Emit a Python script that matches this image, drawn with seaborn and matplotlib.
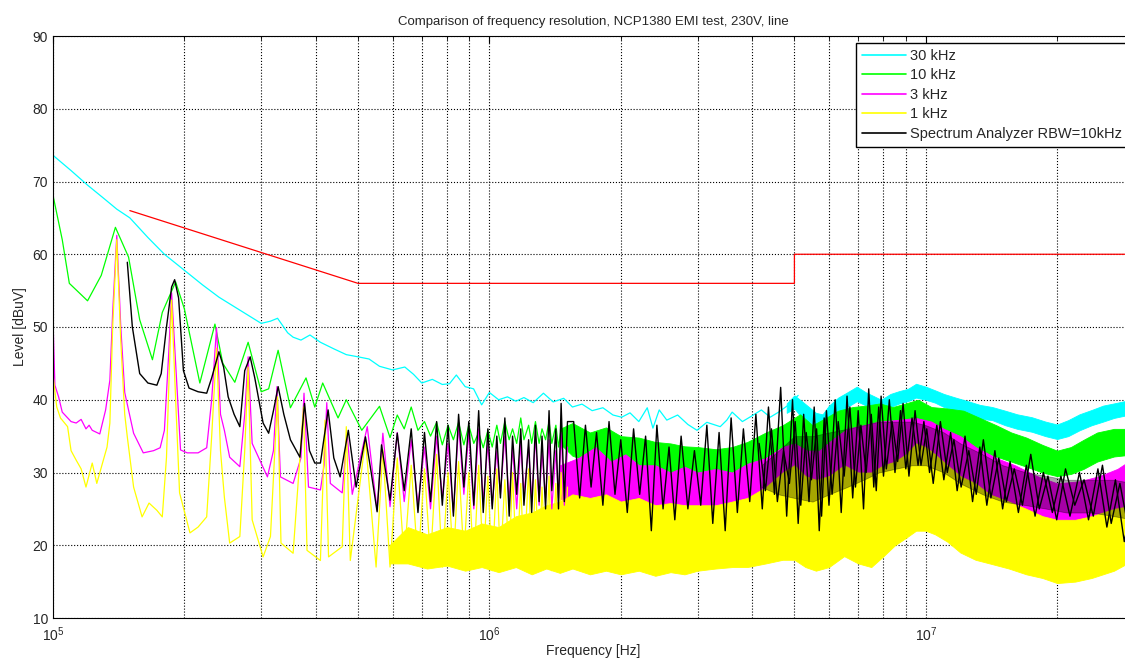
import numpy as np
import pandas as pd
import matplotlib
matplotlib.use('Agg')
import matplotlib.pyplot as plt
import seaborn as sns
from matplotlib.lines import Line2D
from matplotlib.ticker import LogLocator, NullFormatter

# ---- data (frequency in Hz, level in dBuV) ----

# 30 kHz resolution
cyan_f = [1.00e5, 1.10e5, 1.20e5, 1.30e5, 1.40e5, 1.50e5, 1.65e5, 1.80e5, 2.00e5, 2.20e5,
          2.40e5, 2.70e5, 3.00e5, 3.15e5, 3.27e5, 3.45e5, 3.55e5, 3.70e5, 3.88e5, 4.10e5,
          4.40e5, 4.70e5, 5.00e5, 5.30e5, 5.60e5, 6.00e5, 6.40e5, 6.70e5, 7.00e5, 7.40e5,
          7.80e5, 8.10e5, 8.40e5, 8.80e5, 9.20e5, 9.60e5, 1.00e6, 1.05e6, 1.10e6, 1.15e6,
          1.20e6, 1.26e6, 1.33e6, 1.40e6, 1.48e6, 1.55e6, 1.63e6, 1.72e6, 1.82e6, 1.92e6,
          2.01e6, 2.10e6, 2.20e6, 2.30e6, 2.37e6, 2.45e6, 2.55e6, 2.70e6, 2.85e6, 2.99e6,
          3.15e6, 3.38e6, 3.50e6, 3.60e6, 3.80e6, 4.00e6, 4.20e6, 4.40e6, 4.60e6, 4.85e6,
          5.10e6]
cyan_db = [73.6, 71.5, 69.5, 67.8, 66.2, 65.0, 62.3, 60.0, 57.8, 55.8,
           54.1, 52.2, 50.5, 50.8, 51.2, 49.2, 48.6, 48.2, 48.9, 47.9,
           47.0, 46.2, 45.9, 45.6, 44.6, 44.1, 44.5, 43.5, 42.3, 42.8,
           42.1, 42.2, 43.4, 41.8, 41.5, 39.3, 41.0, 40.0, 40.4, 39.8,
           40.3, 39.6, 40.9, 39.7, 40.2, 39.0, 39.4, 38.5, 38.9, 37.9,
           37.6, 38.2, 37.0, 38.9, 36.1, 38.6, 37.2, 37.9, 36.6, 35.8,
           36.9, 36.3, 37.2, 38.3, 37.0, 37.8, 38.6, 37.6, 38.3, 39.3,
           40.6]
cyan_band_f = [4.8e6, 5.0e6, 5.2e6, 5.4e6, 5.6e6, 5.8e6, 6.0e6, 6.3e6, 6.6e6, 6.95e6,
               7.3e6, 7.6e6, 7.9e6, 8.3e6, 8.7e6, 9.1e6, 9.5e6, 1.0e7, 1.05e7, 1.1e7,
               1.17e7, 1.25e7, 1.33e7, 1.42e7, 1.52e7, 1.62e7, 1.75e7, 1.88e7, 2.0e7, 2.12e7,
               2.25e7, 2.4e7, 2.55e7, 2.7e7, 2.85e7, 3.0e7]
cyan_band_lo = [38.2, 38.8, 37.5, 37.0, 36.2, 36.0, 37.0, 38.2, 39.0, 39.8,
                39.2, 38.6, 38.3, 39.0, 39.5, 39.8, 40.3, 40.0, 39.6, 39.0,
                38.5, 38.0, 37.4, 37.2, 36.5, 36.0, 35.6, 35.0, 34.6, 35.0,
                35.8, 36.5, 37.0, 37.5, 37.8, 38.0]
cyan_band_hi = [39.5, 40.6, 39.8, 39.0, 38.2, 38.0, 39.2, 40.3, 41.0, 41.8,
                41.0, 40.5, 40.0, 40.8, 41.2, 41.5, 42.2, 41.8, 41.3, 40.8,
                40.3, 39.8, 39.3, 39.0, 38.5, 38.0, 37.6, 37.0, 36.6, 37.2,
                38.0, 38.6, 39.2, 39.5, 39.8, 40.2]

# 10 kHz resolution
green_f = [1.00e5, 1.05e5, 1.09e5, 1.20e5, 1.29e5, 1.39e5, 1.49e5, 1.58e5, 1.69e5, 1.78e5,
           1.91e5, 2.00e5, 2.17e5, 2.35e5, 2.45e5, 2.61e5, 2.80e5, 3.00e5, 3.12e5, 3.28e5,
           3.50e5, 3.80e5, 3.98e5, 4.15e5, 4.50e5, 4.70e5, 5.10e5, 5.60e5]
green_db = [68.1, 62.0, 56.0, 53.6, 57.1, 63.7, 59.6, 51.0, 45.5, 52.0,
            56.2, 52.5, 42.3, 50.4, 45.0, 42.4, 47.9, 41.1, 41.5, 46.8,
            38.9, 43.0, 39.0, 42.3, 37.5, 40.0, 35.8, 39.1]

# harmonic comb 0.6 - 1.5 MHz (trough, peak, trough, ...)
zz_f = [5.92e5, 6.15e5, 6.38e5, 6.62e5, 6.86e5, 7.10e5, 7.33e5, 7.57e5, 7.80e5, 8.04e5,
        8.27e5, 8.50e5, 8.74e5, 8.97e5, 9.21e5, 9.45e5, 9.68e5, 9.92e5, 1.015e6, 1.04e6,
        1.06e6, 1.085e6, 1.11e6, 1.13e6, 1.155e6, 1.18e6, 1.20e6, 1.23e6, 1.25e6, 1.275e6,
        1.30e6, 1.32e6, 1.345e6, 1.37e6, 1.39e6, 1.42e6, 1.44e6, 1.46e6, 1.485e6, 1.51e6]
green_zz = [34.8, 37.9, 36.0, 39.0, 35.8, 37.0, 35.0, 36.9, 33.8, 36.5,
            34.5, 36.9, 33.8, 36.5, 34.0, 35.5, 33.4, 35.8, 33.5, 36.5,
            34.0, 37.0, 34.5, 36.0, 34.0, 37.5, 34.5, 36.5, 34.0, 37.0,
            34.0, 36.0, 34.5, 37.0, 34.0, 36.5, 33.5, 36.0, 34.0, 36.5]
magenta_zz = [25.3, 35.5, 26.0, 34.5, 25.5, 33.5, 25.0, 35.0, 26.5, 34.0,
              24.5, 36.5, 27.0, 35.5, 25.0, 36.0, 26.0, 34.0, 25.5, 33.0,
              27.0, 35.0, 26.0, 33.5, 25.0, 34.0, 27.0, 33.5, 26.0, 35.0,
              25.5, 33.0, 26.5, 34.5, 25.0, 33.0, 26.5, 35.5, 25.5, 33.5]
yellow_zz = [17.0, 32.0, 18.0, 31.0, 17.5, 30.5, 18.0, 32.5, 17.0, 30.0,
             17.5, 31.5, 18.5, 30.0, 17.0, 31.0, 17.5, 29.5, 16.5, 30.5,
             17.5, 29.0, 18.0, 30.0, 17.0, 28.5, 17.5, 30.5, 16.5, 29.0,
             17.0, 28.0, 17.5, 29.5, 16.5, 28.5, 17.5, 30.0, 17.0, 28.0]
black_zz = [26.2, 35.4, 27.5, 36.0, 24.5, 35.5, 26.0, 37.0, 25.5, 36.5,
            24.0, 38.0, 28.0, 37.0, 25.5, 38.5, 24.5, 36.0, 25.0, 35.0,
            26.5, 37.5, 24.0, 35.0, 27.0, 36.0, 25.5, 34.5, 24.5, 36.5,
            26.0, 35.0, 25.0, 38.5, 27.5, 36.0, 25.0, 39.5, 26.0, 37.0]

green_band_f = [1.45e6, 1.55e6, 1.7e6, 1.85e6, 2.0e6, 2.2e6, 2.4e6, 2.6e6, 2.8e6, 3.0e6,
                3.3e6, 3.6e6, 3.9e6, 4.3e6, 4.7e6, 5.15e6, 5.5e6, 5.9e6, 6.3e6, 6.8e6,
                7.3e6, 7.85e6, 8.4e6, 9.0e6, 9.6e6, 1.03e7, 1.12e7, 1.22e7, 1.33e7, 1.45e7,
                1.57e7, 1.7e7, 1.85e7, 2.0e7, 2.15e7, 2.3e7, 2.47e7, 2.7e7, 3.0e7]
green_band_lo = [34.0, 32.3, 31.5, 31.8, 31.0, 30.8, 30.2, 30.0, 29.6, 29.5,
                 29.8, 30.0, 30.6, 31.5, 32.2, 33.0, 32.0, 33.2, 34.0, 34.6,
                 34.8, 35.0, 35.3, 35.5, 35.5, 35.0, 34.5, 34.0, 33.0, 32.2,
                 31.5, 30.8, 30.0, 29.5, 29.8, 30.5, 31.5, 32.2, 32.5]
green_band_hi = [36.0, 36.8, 35.5, 36.2, 35.0, 34.8, 34.2, 34.0, 33.6, 33.5,
                 33.2, 33.5, 34.2, 35.5, 36.5, 38.0, 36.5, 37.5, 38.5, 39.0,
                 39.2, 39.5, 39.0, 39.5, 40.0, 39.0, 38.8, 38.5, 37.5, 36.5,
                 35.5, 34.8, 33.8, 33.0, 33.5, 34.5, 35.5, 36.0, 36.0]

# 3 kHz resolution
magenta_f = [1.00e5, 1.01e5, 1.03e5, 1.05e5, 1.10e5, 1.13e5, 1.16e5, 1.19e5, 1.21e5, 1.23e5,
             1.28e5, 1.32e5, 1.35e5, 1.37e5, 1.40e5, 1.43e5, 1.46e5, 1.53e5, 1.61e5, 1.70e5,
             1.76e5, 1.80e5, 1.84e5, 1.87e5, 1.91e5, 1.96e5, 2.03e5, 2.15e5, 2.25e5, 2.31e5,
             2.37e5, 2.42e5, 2.47e5, 2.54e5, 2.68e5, 2.75e5, 2.80e5, 2.86e5, 3.10e5, 3.20e5,
             3.26e5, 3.32e5, 3.55e5, 3.70e5, 3.76e5, 3.85e5, 4.10e5, 4.18e5, 4.24e5, 4.32e5,
             4.60e5, 4.72e5, 4.85e5, 5.25e5, 5.53e5, 5.70e5]
magenta_db = [51.0, 42.0, 40.4, 38.3, 37.0, 36.8, 37.3, 36.0, 36.5, 35.8,
              35.3, 38.6, 42.7, 52.0, 62.6, 50.0, 41.0, 35.4, 32.7, 33.0,
              33.4, 35.8, 46.0, 54.7, 45.0, 33.1, 32.7, 32.7, 33.4, 40.0,
              49.9, 38.0, 35.8, 32.1, 30.8, 38.0, 45.9, 34.0, 29.4, 33.0,
              41.8, 29.4, 28.5, 32.0, 40.9, 28.0, 27.6, 31.0, 39.6, 28.5,
              27.2, 35.4, 27.0, 36.3, 24.8, 35.4]
magenta_band_f = [1.45e6, 1.6e6, 1.75e6, 1.9e6, 2.05e6, 2.2e6, 2.4e6, 2.6e6, 2.8e6, 3.0e6,
                  3.3e6, 3.6e6, 3.9e6, 4.3e6, 4.7e6, 5.0e6, 5.35e6, 5.7e6, 6.1e6, 6.6e6,
                  7.2e6, 7.8e6, 8.5e6, 9.5e6, 1.03e7, 1.1e7, 1.2e7, 1.3e7, 1.45e7, 1.6e7,
                  1.8e7, 2.0e7, 2.25e7, 2.5e7, 2.75e7, 3.0e7]
magenta_band_lo = [26.5, 24.5, 25.5, 25.0, 25.8, 25.0, 25.5, 25.0, 25.6, 25.0,
                   25.5, 25.5, 26.2, 26.5, 27.5, 27.5, 26.5, 26.0, 27.0, 28.0,
                   28.5, 29.0, 29.5, 30.0, 29.8, 29.0, 28.0, 26.5, 25.0, 24.0,
                   22.8, 22.0, 22.0, 22.5, 23.0, 24.0]
magenta_band_hi = [31.0, 32.0, 33.5, 31.5, 32.5, 31.0, 31.0, 30.0, 30.8, 30.0,
                   30.5, 30.0, 31.2, 32.0, 33.5, 34.0, 33.0, 33.0, 34.5, 36.0,
                   36.5, 37.0, 37.2, 37.5, 37.0, 36.0, 35.0, 33.5, 32.0, 31.0,
                   29.5, 28.5, 28.8, 29.5, 30.5, 32.0]

# 1 kHz resolution
yellow_f = [1.00e5, 1.02e5, 1.04e5, 1.08e5, 1.10e5, 1.13e5, 1.16e5, 1.19e5, 1.23e5, 1.26e5,
            1.30e5, 1.33e5, 1.35e5, 1.37e5, 1.40e5, 1.43e5, 1.46e5, 1.48e5, 1.53e5, 1.60e5,
            1.66e5, 1.73e5, 1.78e5, 1.82e5, 1.87e5, 1.91e5, 1.95e5, 2.06e5, 2.15e5, 2.25e5,
            2.31e5, 2.37e5, 2.42e5, 2.47e5, 2.54e5, 2.68e5, 2.75e5, 2.80e5, 2.86e5, 3.03e5,
            3.15e5, 3.27e5, 3.33e5, 3.55e5, 3.75e5, 3.82e5, 4.10e5, 4.20e5, 4.28e5, 4.60e5,
            4.70e5, 4.80e5, 5.20e5, 5.50e5, 5.70e5]
yellow_db = [43.4, 39.0, 37.5, 36.3, 33.0, 31.7, 30.5, 28.0, 31.3, 28.5,
             31.4, 33.5, 36.8, 50.0, 62.0, 48.0, 38.0, 34.9, 28.0, 23.9,
             25.8, 24.8, 23.9, 32.1, 53.7, 40.0, 27.2, 21.7, 22.5, 23.9,
             35.0, 47.1, 33.0, 26.6, 20.3, 21.2, 33.0, 44.5, 23.5, 18.4,
             21.2, 40.4, 20.3, 18.9, 39.0, 19.3, 17.9, 37.2, 18.4, 19.8,
             36.3, 17.9, 34.5, 17.0, 33.1]
yellow_band_f = [5.9e5, 6.5e5, 7.2e5, 8.0e5, 8.8e5, 9.6e5, 1.05e6, 1.15e6, 1.25e6, 1.35e6,
                 1.45e6, 1.55e6, 1.7e6, 1.85e6, 2.0e6, 2.2e6, 2.4e6, 2.6e6, 2.8e6, 3.0e6,
                 3.3e6, 3.6e6, 3.9e6, 4.3e6, 4.7e6, 5.0e6, 5.3e6, 5.6e6, 6.0e6, 6.5e6,
                 7.0e6, 7.5e6, 8.0e6, 8.5e6, 9.0e6, 9.5e6, 1.0e7, 1.05e7, 1.12e7, 1.2e7,
                 1.3e7, 1.4e7, 1.55e7, 1.7e7, 1.85e7, 2.0e7, 2.2e7, 2.4e7, 2.7e7, 3.0e7]
yellow_band_lo = [17.5, 17.5, 16.8, 17.2, 16.5, 17.0, 16.3, 17.0, 16.0, 16.8,
                  16.2, 16.8, 16.0, 16.5, 16.0, 16.5, 15.8, 16.3, 16.0, 16.5,
                  16.8, 17.0, 17.0, 17.5, 18.0, 18.0, 17.0, 16.5, 17.0, 18.5,
                  17.5, 17.0, 18.5, 20.0, 21.0, 22.0, 22.0, 21.5, 20.5, 19.0,
                  18.0, 17.5, 16.8, 16.0, 15.5, 14.8, 15.0, 15.5, 16.5, 18.0]
yellow_band_hi = [20.0, 22.5, 21.5, 22.5, 22.0, 23.0, 22.5, 24.0, 24.5, 25.5,
                  26.0, 27.0, 26.5, 27.0, 26.0, 26.5, 25.5, 25.8, 25.5, 25.5,
                  25.5, 26.0, 26.5, 28.0, 30.0, 31.0, 29.5, 29.0, 29.5, 31.0,
                  30.0, 30.0, 31.0, 31.5, 32.5, 34.0, 33.5, 32.5, 31.0, 29.5,
                  28.5, 27.0, 26.0, 25.0, 24.0, 23.5, 23.5, 24.0, 25.0, 25.5]

# spectrum analyzer RBW = 10 kHz
black_f = [1.48e5, 1.52e5, 1.58e5, 1.65e5, 1.73e5, 1.77e5, 1.82e5, 1.87e5, 1.90e5, 1.94e5,
           1.99e5, 2.05e5, 2.15e5, 2.25e5, 2.31e5, 2.40e5, 2.46e5, 2.52e5, 2.60e5, 2.68e5,
           2.75e5, 2.83e5, 2.90e5, 3.03e5, 3.12e5, 3.20e5, 3.28e5, 3.38e5, 3.50e5, 3.68e5,
           3.77e5, 3.87e5, 3.98e5, 4.10e5, 4.27e5, 4.40e5, 4.55e5, 4.75e5, 4.95e5, 5.20e5,
           5.36e5, 5.53e5, 5.66e5]
black_db = [58.9, 50.0, 43.6, 42.3, 42.0, 43.6, 50.0, 55.5, 56.5, 54.0,
            44.0, 41.6, 41.1, 40.9, 43.0, 46.6, 44.5, 40.4, 38.0, 36.3,
            44.0, 45.9, 43.0, 36.8, 35.4, 38.5, 41.8, 38.0, 34.5, 32.1,
            39.5, 33.0, 31.3, 31.3, 38.6, 32.0, 29.4, 35.8, 28.0, 34.9,
            30.0, 24.6, 33.8]
black_hf_f = [1.56e6, 1.61e6, 1.66e6, 1.71e6, 1.76e6, 1.82e6, 1.88e6, 1.94e6, 2.00e6, 2.07e6,
              2.14e6, 2.21e6, 2.28e6, 2.35e6, 2.42e6, 2.50e6, 2.58e6, 2.66e6, 2.75e6, 2.85e6,
              2.95e6, 3.05e6, 3.15e6, 3.25e6, 3.36e6, 3.47e6, 3.58e6, 3.70e6, 3.82e6, 3.95e6,
              4.08e6, 4.22e6, 4.36e6, 4.50e6, 4.65e6, 4.80e6, 4.95e6, 5.10e6, 5.25e6, 5.40e6,
              5.55e6, 5.70e6, 5.85e6, 6.00e6, 6.20e6, 6.40e6, 6.60e6, 6.80e6, 7.00e6, 7.20e6,
              7.40e6, 7.60e6, 7.80e6, 8.00e6, 8.25e6, 8.50e6, 8.75e6, 9.00e6, 9.30e6, 9.60e6,
              9.90e6, 1.02e7, 1.06e7, 1.10e7, 1.14e7, 1.18e7, 1.23e7, 1.28e7, 1.33e7, 1.38e7,
              1.44e7, 1.50e7, 1.56e7, 1.63e7, 1.70e7, 1.78e7, 1.86e7, 1.95e7, 2.04e7, 2.14e7,
              2.25e7, 2.36e7, 2.48e7, 2.60e7, 2.72e7, 2.85e7, 3.00e7]
black_hf_db = [37.0, 26.5, 36.5, 28.0, 35.5, 25.5, 37.0, 27.0, 34.5, 24.5,
               36.0, 27.0, 35.0, 22.0, 36.5, 25.0, 33.5, 23.5, 35.0, 25.0,
               33.0, 25.5, 36.5, 23.0, 35.5, 22.0, 37.5, 24.5, 36.0, 26.0,
               38.0, 25.0, 39.0, 27.0, 41.7, 24.0, 40.0, 23.0, 38.0, 26.0,
               39.0, 22.0, 37.5, 25.5, 40.0, 24.5, 40.5, 26.5, 38.5, 25.0,
               41.5, 28.0, 39.0, 29.5, 40.0, 30.0, 38.5, 30.5, 37.5, 31.0,
               37.0, 30.0, 36.5, 29.0, 35.5, 27.5, 35.0, 26.0, 33.5, 25.5,
               33.0, 25.0, 31.5, 24.5, 31.0, 24.0, 30.0, 24.5, 29.5, 24.0,
               30.0, 23.5, 30.5, 22.5, 29.0, 20.5, 27.5]
# second pass of spikes in between, where the analyzer trace is densest
black_hf2_f = [4.15e6, 4.29e6, 4.43e6, 4.57e6, 4.72e6, 4.87e6, 5.02e6, 5.17e6, 5.32e6, 5.47e6,
               5.62e6, 5.77e6, 5.92e6, 6.10e6, 6.30e6, 6.50e6, 6.70e6, 6.90e6, 7.10e6, 7.30e6,
               7.50e6, 7.70e6, 7.90e6, 8.12e6, 8.37e6, 8.62e6, 8.87e6, 9.15e6, 9.45e6, 9.75e6,
               1.005e7, 1.04e7, 1.08e7, 1.12e7, 1.16e7, 1.205e7, 1.255e7, 1.305e7, 1.355e7, 1.41e7,
               1.47e7, 1.53e7, 1.595e7, 1.665e7, 1.74e7, 1.82e7, 1.905e7, 1.995e7, 2.09e7, 2.195e7,
               2.305e7, 2.42e7, 2.54e7, 2.66e7, 2.785e7, 2.92e7]
black_hf2_db = [34.0, 27.5, 36.0, 26.0, 33.0, 28.5, 37.0, 25.5, 35.5, 29.0,
                36.0, 24.0, 38.5, 27.0, 37.0, 29.5, 39.0, 28.0, 36.5, 30.0,
                38.0, 27.5, 40.5, 30.5, 37.0, 31.5, 39.5, 29.5, 38.5, 31.0,
                36.0, 28.5, 37.0, 30.0, 34.5, 28.0, 33.0, 27.0, 34.5, 26.5,
                32.0, 26.0, 30.5, 25.5, 32.5, 25.0, 29.5, 23.5, 30.5, 25.5,
                29.0, 24.0, 31.0, 23.0, 28.5, 22.0]
black_band_f = [4.2e6, 4.6e6, 5.0e6, 5.5e6, 6.0e6, 6.6e6, 7.2e6, 7.8e6, 8.5e6, 9.3e6,
                1.0e7, 1.1e7, 1.2e7, 1.35e7, 1.5e7, 1.7e7, 1.9e7, 2.1e7, 2.4e7, 2.7e7,
                3.0e7]
black_band_lo = [28.0, 27.0, 26.5, 26.0, 27.0, 28.0, 29.0, 30.0, 30.5, 31.0,
                 31.0, 30.0, 28.5, 27.0, 26.0, 25.5, 25.0, 24.5, 24.5, 24.0,
                 23.5]
black_band_hi = [31.0, 33.0, 35.0, 35.0, 35.5, 36.0, 36.5, 37.0, 37.0, 37.0,
                 36.5, 35.5, 34.0, 32.5, 31.0, 30.0, 29.5, 29.0, 29.0, 29.0,
                 28.5]

# CISPR 22 class B QP limit
limit_f = [1.5e5, 5.0e5, 5.0e6, 5.0e6, 3.0e7]
limit_db = [66.0, 56.0, 56.0, 60.0, 60.0]

labels = ['30 kHz', '10 kHz', '3 kHz', '1 kHz', 'Spectrum Analyzer RBW=10kHz']
colors = ['#00ffff', '#00ff00', '#ff00ff', '#ffff00', '#000000']

# ---- plot ----
sns.set_style('white')
plt.rcParams['font.family'] = ['Liberation Sans', 'DejaVu Sans']

fig = plt.figure(figsize=(11.25, 6.6), dpi=100)
ax = fig.add_axes([53 / 1125, 42 / 660, (1134 - 53) / 1125, 582 / 660])
ax.set_xscale('log')

lw = 0.9


def trace(f, db, c, w=lw):
    sns.lineplot(x=f, y=db, ax=ax, color=c, lw=w, sort=False, estimator=None)


def band(f, lo, hi, c, alpha=1.0):
    ax.fill_between(f, lo, hi, color=c, lw=0.6, edgecolor=c, alpha=alpha)


trace(cyan_f, cyan_db, colors[0])
band(cyan_band_f, cyan_band_lo, cyan_band_hi, colors[0])

trace(green_f + zz_f, green_db + green_zz, colors[1])
band(green_band_f, green_band_lo, green_band_hi, colors[1])

trace(magenta_f + zz_f, magenta_db + magenta_zz, colors[2])
band(magenta_band_f, magenta_band_lo, magenta_band_hi, colors[2])

band(yellow_band_f, yellow_band_lo, yellow_band_hi, colors[3])
trace(yellow_f + zz_f, yellow_db + yellow_zz, colors[3])

band(black_band_f, black_band_lo, black_band_hi, colors[4], alpha=0.35)
trace(black_hf2_f, black_hf2_db, colors[4], w=1.0)
trace(black_f + zz_f + black_hf_f, black_db + black_zz + black_hf_db, colors[4], w=1.0)

sns.lineplot(x=limit_f, y=limit_db, ax=ax, color='red', lw=lw, sort=False, estimator=None)

ax.set_xlim(1e5, 3e7)
ax.set_ylim(10, 90)
ax.set_yticks(range(10, 91, 10))
ax.xaxis.set_major_locator(LogLocator(base=10, numticks=10))
ax.xaxis.set_minor_locator(LogLocator(base=10, subs=np.arange(2, 10), numticks=20))
ax.xaxis.set_minor_formatter(NullFormatter())
ax.grid(True, which='major', axis='both', ls=':', color='k', lw=0.8)
ax.grid(True, which='minor', axis='x', ls=':', color='k', lw=0.8)
ax.tick_params(which='both', direction='in', top=True, right=True, labelsize=10,
               color='k', length=5)
ax.tick_params(axis='x', pad=5)
ax.tick_params(which='minor', length=3)
for s in ax.spines.values():
    s.set_color('k')
    s.set_linewidth(0.8)

ax.set_title('Comparison of frequency resolution, NCP1380 EMI test, 230V, line',
             fontsize=9.5, pad=8)
ax.set_xlabel('Frequency [Hz]', fontsize=10, labelpad=0)
ax.set_ylabel('Level [dBuV]', fontsize=10, labelpad=4)

handles = [Line2D([], [], color=c, lw=1.2) for c in colors]
fig.legend(handles, labels, loc='upper left', bbox_to_anchor=(856 / 1125, 1 - 43 / 660),
           bbox_transform=fig.transFigure, fontsize=10.5, frameon=True, fancybox=False,
           edgecolor='k', framealpha=1, handlelength=3.0, handletextpad=0.3,
           labelspacing=0.38, borderpad=0.4, borderaxespad=0)

fig.savefig('out.png', dpi=100)
